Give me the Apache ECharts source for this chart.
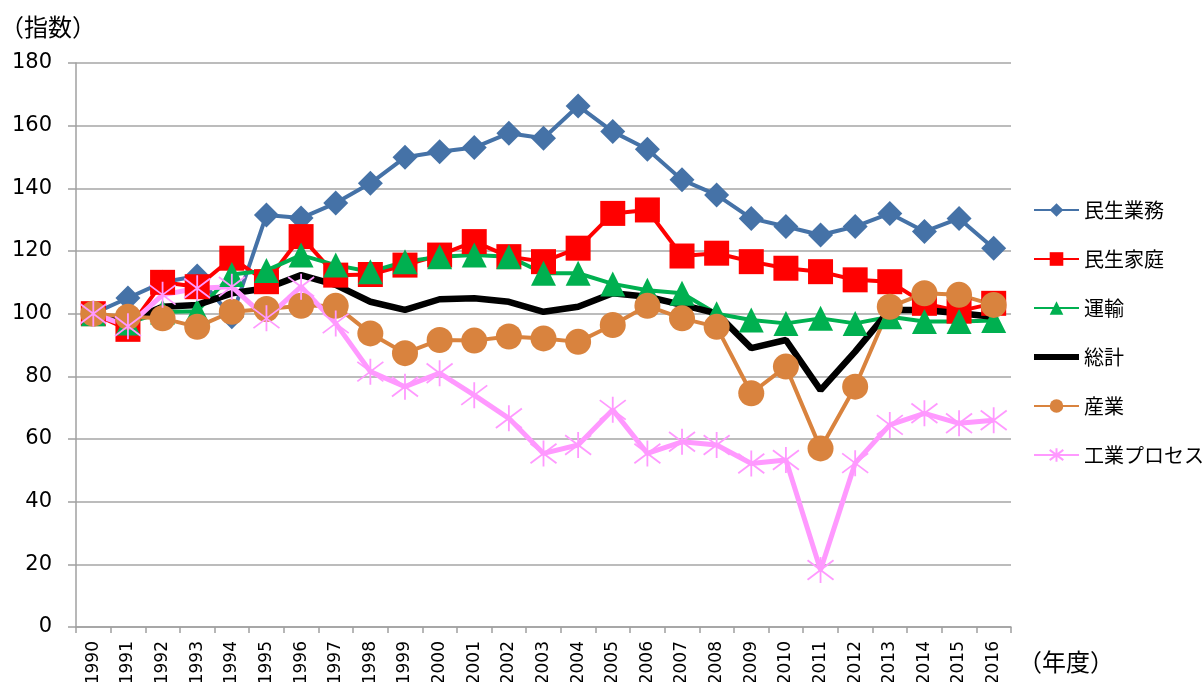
<!DOCTYPE html>
<html><head><meta charset="utf-8">
<script src="https://cdn.jsdelivr.net/npm/echarts@6/dist/echarts.min.js"></script>
<style>html,body{margin:0;padding:0;background:#fff}#c{width:1203px;height:682px}</style>
</head><body><div id="c"></div>
<script>
const years = ['1990','1991','1992','1993','1994','1995','1996','1997','1998','1999','2000','2001','2002','2003','2004','2005','2006','2007','2008','2009','2010','2011','2012','2013','2014','2015','2016'];
const yTicks = [0,20,40,60,80,100,120,140,160,180];
const minseiGyomu = [100,105,110,112,99,131.5,130.5,135.3,141.6,149.9,151.7,153,157.6,156,166.3,158.1,152.5,142.7,137.9,130.4,127.8,125.1,127.8,132,126.2,130.4,120.9];
const minseiKatei = [100,95,110,108.6,117.7,110.2,124.6,112.3,112.5,115.5,118.7,123,118.2,116.6,120.9,132,133.1,118.4,119.3,116.6,114.5,113.4,110.8,110.2,103.3,100.8,103.3];
const unyu = [100,97,100.5,100.8,112.5,113.8,118.7,115.5,113.4,116.6,118.2,118.7,118.2,112.9,112.9,109.5,107.5,106.5,100,98,96.9,98.5,96.9,99,97.5,97.5,97.8];
const soukei = [100,97.5,102.2,102.8,106.5,108.1,112.3,109.2,103.8,101.2,104.6,104.9,103.8,100.6,102.2,106.5,105.4,102.8,100.1,89,91.6,75.6,87.9,101.2,101.2,100.1,99];
const sangyo = [100,99,98.5,95.8,100.6,101.5,102.5,102.5,93.7,87.4,91.6,91.4,92.7,92.1,91,96.4,102.5,98.5,95.8,74.6,83.1,57,76.7,102.2,106.5,106,102.8];
const kogyoProcess = [100,96,106,108.1,108.6,98.5,108.6,96.9,81.5,76.7,81,74,66.6,55.4,58.1,69.3,55.4,59.1,58.1,52.2,53.3,18.2,52.3,64.5,68.2,65,66];
const seriesNames = ['民生業務','民生家庭','運輸','総計','産業','工業プロセス'];

const JP = '"Noto Sans CJK JP",sans-serif';
const NUM = '"DejaVu Sans",sans-serif';
const chart = echarts.init(document.getElementById('c'));
const asterisk = 'path://M0,-10L0,10M-7.5,-7.5L7.5,7.5M7.5,-7.5L-7.5,7.5';
const thickLine = 'path://M0,0L0.01,0M0,5H45V11H0ZM0,16L0.01,16';
function mk(name, data, color, symbol, size, width, extra) {
  return Object.assign({
    name, type: 'line', data, symbol, symbolSize: size,
    lineStyle: { color, width },
    itemStyle: { color },
    emphasis: { disabled: true },
    animation: false
  }, extra || {});
}
chart.setOption({
  animation: false,
  textStyle: { fontFamily: JP },
  grid: { left: 76, right: 192, top: 63, bottom: 55, containLabel: false, outerBoundsMode: 'none' },
  legend: {
    orient: 'vertical', left: 1033, top: 200, padding: 0,
    itemWidth: 45, itemHeight: 17, itemGap: 29,
    textStyle: { fontSize: 20, color: '#000', fontFamily: JP },
    data: seriesNames.map(n => n === '総計' ? { name: n, icon: thickLine } : n)
  },
  xAxis: {
    type: 'category', data: years, boundaryGap: true,
    axisLine: { lineStyle: { color: '#A0A0A0', width: 1.5 } },
    axisTick: { show: true, length: 6, lineStyle: { color: '#A0A0A0', width: 1.5 } },
    axisLabel: { rotate: 90, fontSize: 17, margin: 14, interval: 0, color: '#000', fontFamily: NUM },
    splitLine: { show: false }
  },
  yAxis: {
    type: 'value', min: yTicks[0], max: yTicks[yTicks.length-1], interval: yTicks[1]-yTicks[0],
    axisLine: { show: true, lineStyle: { color: '#A0A0A0', width: 1.5 } },
    axisTick: { show: true, length: 8, lineStyle: { color: '#A0A0A0', width: 1.5 } },
    axisLabel: { fontSize: 21, margin: 24, color: '#000', fontFamily: NUM },
    splitLine: { lineStyle: { color: '#A6A6A6', width: 1.5 } }
  },
  graphic: [
    { type: 'text', left: 0, top: 15, style: { text: '（指数）', fontSize: 24, fontFamily: JP, fill: '#000' } },
    { type: 'text', left: 1018, top: 650, style: { text: '（年度）', fontSize: 24, fontFamily: JP, fill: '#000' } }
  ],
  series: [
    mk('民生業務', minseiGyomu, '#4572A7', 'diamond', 25, 4),
    mk('民生家庭', minseiKatei, '#FF0000', 'rect', 25, 4),
    mk('運輸', unyu, '#00B050', 'triangle', 25, 4),
    mk('総計', soukei, '#000000', 'none', 0, 6.5),
    mk('産業', sangyo, '#D9833E', 'circle', 26, 4),
    mk('工業プロセス', kogyoProcess, '#FF99FF', asterisk, 26, 5,
      { itemStyle: { color: '#FF99FF', borderColor: '#FF99FF', borderWidth: 1.8 } })
  ]
});
</script></body></html>
